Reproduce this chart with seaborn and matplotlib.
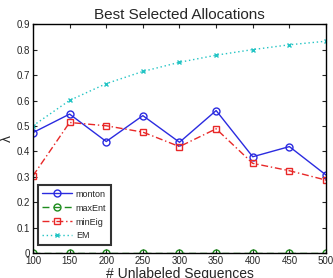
import matplotlib
matplotlib.use("Agg")
import matplotlib.pyplot as plt
import seaborn as sns
import pandas as pd

x_vals = [100, 150, 200, 250, 300, 350, 400, 450, 500]
monton = [0.474, 0.547, 0.439, 0.541, 0.436, 0.561, 0.379, 0.419, 0.307]
maxEnt = [0, 0, 0, 0, 0, 0, 0, 0, 0]
minEig = [0.304, 0.514, 0.501, 0.476, 0.419, 0.489, 0.353, 0.324, 0.287]
EM = [0.501, 0.601, 0.667, 0.715, 0.751, 0.779, 0.801, 0.820, 0.834]
x_ticks = [100, 150, 200, 250, 300, 350, 400, 450, 500]
y_ticks = [0, 0.1, 0.2, 0.3, 0.4, 0.5, 0.6, 0.7, 0.8, 0.9]
y_tick_labels = ["0", "0.1", "0.2", "0.3", "0.4", "0.5", "0.6", "0.7", "0.8", "0.9"]

sns.set_style("ticks")
plt.rcParams['font.family'] = ['Liberation Sans', 'DejaVu Sans']

fig = plt.figure(figsize=(3.33, 2.78), dpi=100)
ax = fig.add_axes([0.099, 0.090, 0.880, 0.822])

series = [
    ("monton", monton, "#2b2be0", "-", "o", 1.0),
    ("maxEnt", maxEnt, "#1e8c1e", (0, (5, 3)), "o", 1.0),
    ("minEig", minEig, "#e82828", (0, (5, 2, 1, 2)), "s", 1.0),
    ("EM", EM, "#22c4c4", (0, (1, 2)), "x", 1.0),
]
for name, vals, col, ls, mk, lw in series:
    df = pd.DataFrame({"x": x_vals, "y": vals})
    sns.lineplot(data=df, x="x", y="y", ax=ax, color=col, linestyle=ls, lw=lw,
                 marker=mk, markersize=5 if mk != "x" else 3.5, markerfacecolor="none",
                 markeredgecolor=col, markeredgewidth=1.0, label=name)

ax.set_xlim(100, 500)
ax.set_ylim(0, 0.9)
ax.set_xticks(x_ticks)
ax.set_xticklabels([str(v) for v in x_ticks])
ax.set_yticks(y_ticks)
ax.set_yticklabels(y_tick_labels)
ax.tick_params(direction="in", top=True, right=True, labelsize=7, length=3, pad=2, width=0.8)
for s in ax.spines.values():
    s.set_color("black")
    s.set_linewidth(1.0)

ax.set_title("Best Selected Allocations", fontsize=11, pad=4)
ax.set_xlabel("# Unlabeled Sequences", fontsize=10, labelpad=1)
ax.set_ylabel("λ", fontsize=10, labelpad=2)

leg = ax.legend(loc="lower left", bbox_to_anchor=(0.017, 0.035), borderaxespad=0,
                fontsize=6.5, frameon=True, fancybox=False, edgecolor="black",
                handlelength=3.3, borderpad=0.5, labelspacing=0.55, handletextpad=0.4)
leg.get_frame().set_linewidth(1.5)

fig.savefig("out.png", dpi=100)
